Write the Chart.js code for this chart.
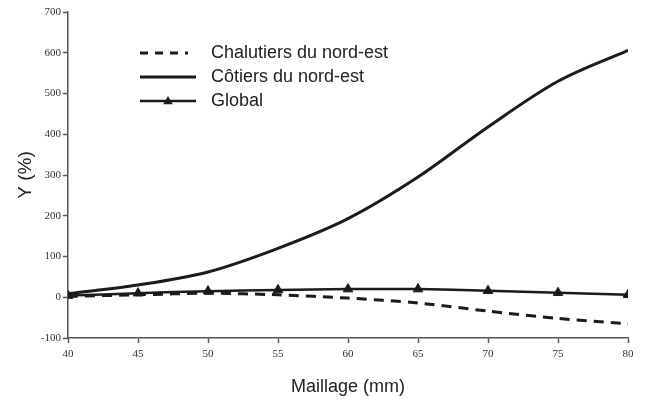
<!DOCTYPE html>
<html>
<head>
<meta charset="utf-8">
<script src="https://cdn.jsdelivr.net/npm/chart.js@4/dist/chart.umd.min.js"></script>
<style>
  html, body { margin: 0; padding: 0; background: #fff; }
  #wrap { width: 646px; height: 401px; position: relative; }
</style>
</head>
<body>
<div id="wrap"><canvas id="c" width="646" height="401"></canvas></div>
<script>
// Mesh size (mm)
const maillage = [40, 45, 50, 55, 60, 65, 70, 75, 80];
// Y (%) by fleet segment
const chalutiers = [2, 6, 10, 6, -2, -14, -34, -52, -65];
const cotiers = [9, 30, 62, 120, 193, 295, 418, 530, 606];
const global = [4, 10, 15, 18, 20, 20, 16, 11, 6];

const seriesLabels = ['Chalutiers du nord-est', 'Côtiers du nord-est', 'Global'];
const yTicks = [-100, 0, 100, 200, 300, 400, 500, 600, 700];

const ink = '#1b1b1b';
const axisGrey = '#555';

const toPoints = (vals) => vals.map((v, i) => ({ x: maillage[i], y: v }));

// Legend drawn inside the plot, upper-left
const legendPlugin = {
  id: 'insetLegend',
  afterDraw(chart) {
    const ctx = chart.ctx;
    const x0 = 140, x1 = 196, tx = 211;
    const rows = [53, 77, 101];
    ctx.save();
    ctx.strokeStyle = ink;
    ctx.fillStyle = ink;
    // dashed sample
    ctx.lineWidth = 3;
    ctx.setLineDash([8, 7]);
    ctx.beginPath(); ctx.moveTo(x0, rows[0]); ctx.lineTo(188, rows[0]); ctx.stroke();
    // solid sample
    ctx.setLineDash([]);
    ctx.beginPath(); ctx.moveTo(x0, rows[1]); ctx.lineTo(x1, rows[1]); ctx.stroke();
    // line with triangle
    ctx.lineWidth = 2.5;
    ctx.beginPath(); ctx.moveTo(x0, rows[2]); ctx.lineTo(x1, rows[2]); ctx.stroke();
    const cx = (x0 + x1) / 2, r = 5;
    ctx.beginPath();
    ctx.moveTo(cx, rows[2] - r);
    ctx.lineTo(cx + r * 0.95, rows[2] + r * 0.65);
    ctx.lineTo(cx - r * 0.95, rows[2] + r * 0.65);
    ctx.closePath(); ctx.fill();
    // texts
    ctx.font = '18px "Liberation Sans", Arial, sans-serif';
    ctx.fillStyle = '#222';
    ctx.textBaseline = 'middle';
    ctx.textAlign = 'left';
    seriesLabels.forEach((t, i) => ctx.fillText(t, tx, rows[i]));
    ctx.restore();
  }
};

new Chart(document.getElementById('c'), {
  type: 'line',
  data: {
    datasets: [
      {
        label: seriesLabels[0],
        data: toPoints(chalutiers),
        borderColor: ink,
        borderWidth: 3,
        borderDash: [10, 7],
        pointRadius: 0,
        tension: 0.2
      },
      {
        label: seriesLabels[1],
        data: toPoints(cotiers),
        borderColor: ink,
        borderWidth: 3,
        pointRadius: 0,
        cubicInterpolationMode: 'monotone'
      },
      {
        label: seriesLabels[2],
        data: toPoints(global),
        borderColor: ink,
        backgroundColor: ink,
        borderWidth: 2.5,
        pointStyle: 'triangle',
        pointRadius: 5.5,
        pointBorderWidth: 1,
        tension: 0.2
      }
    ]
  },
  options: {
    responsive: false,
    animation: false,
    layout: { padding: { top: 12, right: 18, bottom: 0, left: 0 } },
    plugins: {
      legend: { display: false },
      tooltip: { enabled: false }
    },
    scales: {
      x: {
        type: 'linear',
        min: 40, max: 80,
        afterBuildTicks(scale) { scale.ticks = maillage.map(v => ({ value: v })); },
        afterFit(scale) { scale.height = 63; },
        border: { color: axisGrey, width: 1.5 },
        grid: { drawOnChartArea: false, tickLength: 5, color: axisGrey, tickWidth: 1.5 },
        ticks: {
          color: '#333',
          padding: 5,
          maxRotation: 0,
          font: { family: '"Liberation Serif", "Times New Roman", serif', size: 11 }
        },
        title: {
          display: true,
          text: 'Maillage (mm)',
          color: '#222',
          font: { family: '"Liberation Sans", Arial, sans-serif', size: 18 },
          padding: { top: 0, bottom: 3 }
        }
      },
      y: {
        min: -100, max: 700,
        afterBuildTicks(scale) { scale.ticks = yTicks.map(v => ({ value: v })); },
        afterFit(scale) { scale.width = 68; },
        border: { color: axisGrey, width: 1.5 },
        grid: { drawOnChartArea: false, tickLength: 5, color: axisGrey, tickWidth: 1.5 },
        ticks: {
          color: '#333',
          padding: 2,
          font: { family: '"Liberation Serif", "Times New Roman", serif', size: 11 }
        },
        title: {
          display: true,
          text: 'Y (%)',
          color: '#222',
          font: { family: '"Liberation Sans", Arial, sans-serif', size: 19 },
          padding: { top: 14, bottom: 0 }
        }
      }
    }
  },
  plugins: [legendPlugin]
});
</script>
</body>
</html>
